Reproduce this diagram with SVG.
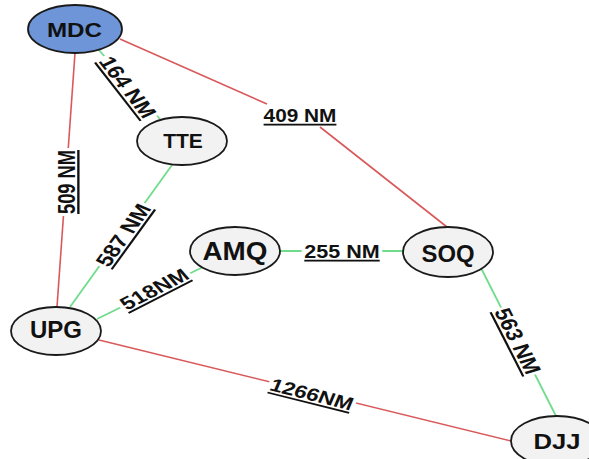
<svg xmlns="http://www.w3.org/2000/svg" width="589" height="459" viewBox="0 0 589 459">
<style>
.red{stroke:#d9595b;stroke-width:1.6;fill:none}
.green{stroke:#6fdc8c;stroke-width:1.8;fill:none}
.node{fill:#f2f2f2;stroke:#1a1a1a;stroke-width:1.8}
.blue{fill:#6d95d8}
.nt{font-family:"Liberation Sans",Arial,sans-serif;font-weight:bold;fill:#111;text-anchor:middle}
.lb{font-family:"Liberation Sans",Arial,sans-serif;font-weight:bold;font-size:18px;fill:#111;text-anchor:middle;text-decoration:underline}
.bg{fill:#fff}
</style>
<rect width="589" height="459" fill="#fff"/>
<g id="connectors">
<line class="red" x1="75" y1="53" x2="57" y2="307"/>
<line class="green" x1="98" y1="49" x2="160" y2="119"/>
<polyline class="red" points="120,39 267,104"/>
<polyline class="red" points="320,127 447,227"/>
<line class="green" x1="172" y1="165" x2="70" y2="307"/>
<line class="green" x1="97" y1="319" x2="203" y2="267"/>
<line class="green" x1="280" y1="251" x2="403" y2="251"/>
<line class="green" x1="481" y1="268" x2="556" y2="416"/>
<line class="red" x1="99" y1="340" x2="511" y2="441"/>
</g>
<g id="labels">
<g transform="translate(128,87) scale(1.3,1) rotate(59)"><rect class="bg" x="-36" y="-8" width="72" height="18"/><text class="lb" x="0" y="6.5" textLength="68" lengthAdjust="spacingAndGlyphs">164 NM</text></g>
<g transform="translate(66.5,182) scale(1.3,1) rotate(-90)"><rect class="bg" x="-34" y="-8" width="68" height="18"/><text class="lb" x="0" y="6.5" textLength="64" lengthAdjust="spacingAndGlyphs">509 NM</text></g>
<g transform="translate(300,116) scale(1.3,1)"><text class="lb" x="0" y="6" textLength="56" lengthAdjust="spacingAndGlyphs">409 NM</text></g>
<g transform="translate(123,235) scale(1.3,1) rotate(-60.8)"><rect class="bg" x="-36" y="-8" width="72" height="18"/><text class="lb" x="0" y="6.5" textLength="68.5" lengthAdjust="spacingAndGlyphs">587 NM</text></g>
<g transform="translate(154,289) scale(1.3,1) rotate(-33.5)"><rect class="bg" x="-32" y="-8" width="64" height="18"/><text class="lb" x="0" y="6.5" textLength="59" lengthAdjust="spacingAndGlyphs">518NM</text></g>
<g transform="translate(342,252) scale(1.3,1)"><rect class="bg" x="-31" y="-8" width="62" height="18"/><text class="lb" x="0" y="6" textLength="58" lengthAdjust="spacingAndGlyphs">255 NM</text></g>
<g transform="translate(518,341) scale(1.3,1) rotate(68.6)"><rect class="bg" x="-36" y="-8" width="72" height="18"/><text class="lb" x="0" y="6.5" textLength="69" lengthAdjust="spacingAndGlyphs">563 NM</text></g>
<g transform="translate(312,394) scale(1.3,1) rotate(18)"><rect class="bg" x="-35" y="-8" width="70" height="18"/><text class="lb" x="0" y="6.5" textLength="66" lengthAdjust="spacingAndGlyphs">1266NM</text></g>
</g>
<g id="MDC"><ellipse class="node blue" cx="75" cy="29" rx="47" ry="24"/><text class="nt" x="74.5" y="37" font-size="20" textLength="55" lengthAdjust="spacingAndGlyphs">MDC</text></g>
<g id="TTE"><ellipse class="node" cx="182" cy="141" rx="45" ry="24"/><text class="nt" x="183" y="148" font-size="21">TTE</text></g>
<g id="AMQ"><ellipse class="node" cx="235" cy="251" rx="45" ry="24"/><text class="nt" x="235" y="260" font-size="25" textLength="65" lengthAdjust="spacingAndGlyphs">AMQ</text></g>
<g id="UPG"><ellipse class="node" cx="56" cy="331" rx="45" ry="24"/><text class="nt" x="56" y="338" font-size="23" textLength="52" lengthAdjust="spacingAndGlyphs">UPG</text></g>
<g id="SOQ"><ellipse class="node" cx="448" cy="252" rx="45" ry="25"/><text class="nt" x="448" y="262" font-size="23" textLength="53" lengthAdjust="spacingAndGlyphs">SOQ</text></g>
<g id="DJJ"><ellipse class="node" cx="557" cy="441" rx="46" ry="25"/><text class="nt" x="557" y="449" font-size="22" textLength="47" lengthAdjust="spacingAndGlyphs">DJJ</text></g>
</svg>
